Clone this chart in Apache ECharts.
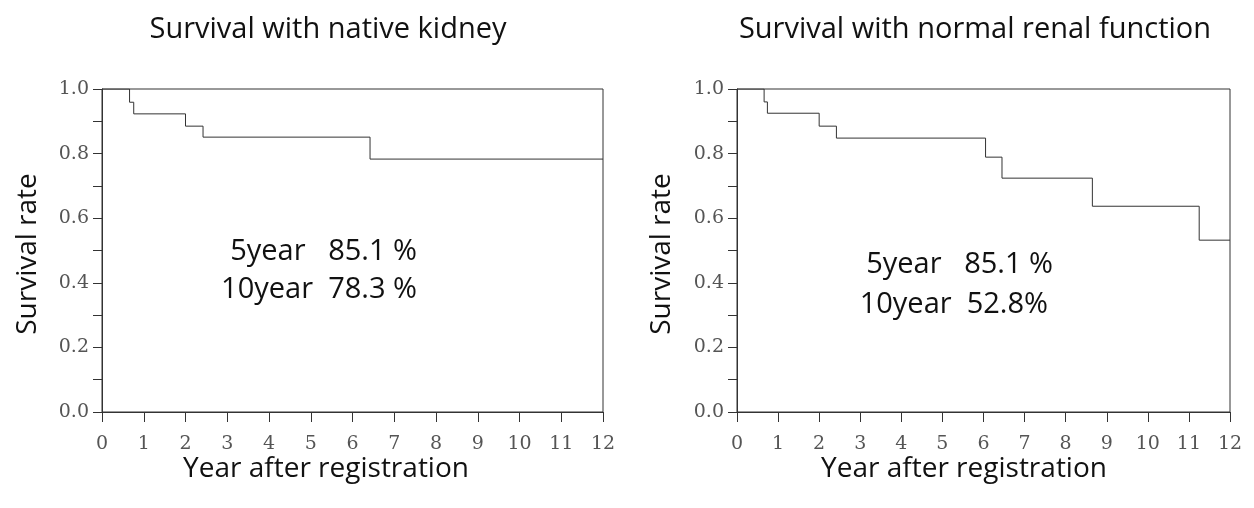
<!DOCTYPE html>
<html>
<head>
    <meta charset="utf-8">
    <title></title>
    <style type="text/css">
        html, body { height: 100%; }
        body { margin: 0; padding: 0; background: #fff; }
        #main { width: 1254px; height: 508px; }
    </style>
</head>
<body>
    <div id="main"></div>
    <script src="https://cdn.jsdelivr.net/npm/echarts@6/dist/echarts.min.js"></script>
    <script type="text/javascript">
        // data
        var titles = ['Survival with native kidney', 'Survival with normal renal function'];
        var kidneyYears = [0, 0.66, 0.76, 2.0, 2.42, 6.42, 12];
        var kidneyRate = [1.0, 0.959, 0.923, 0.885, 0.851, 0.783, 0.783];
        var renalYears = [0, 0.66, 0.74, 2.0, 2.42, 6.05, 6.45, 8.65, 11.25, 12];
        var renalRate = [1.0, 0.960, 0.925, 0.885, 0.848, 0.789, 0.724, 0.637, 0.532, 0.532];
        var notes = [['5year   85.1 %', '10year  78.3 %'], ['5year   85.1 %', '10year  52.8%']];

        function pairs(xs, ys) {
            return xs.map(function (x, i) { return [x, ys[i]]; });
        }

        var lineColor = '#333';
        var textFont = '"Open Sans", Lato, sans-serif';
        var tickFont = '"DejaVu Serif", serif';
        var grids = [
            { left: 102, top: 89, width: 501, height: 323 },
            { left: 737, top: 89, width: 493, height: 323 }
        ];
        // text anchor spots for each panel
        var spots = [
            { title: 328, xname: 326, yname: 28, noteX: [417, 417], noteY: [252, 290] },
            { title: 975, xname: 964, yname: 662, noteX: [1053, 1048], noteY: [265, 305] }
        ];

        function xAxis(i) {
            return {
                type: 'value', gridIndex: i, min: 0, max: 12, interval: 1,
                axisLine: { lineStyle: { color: lineColor, width: 1 } },
                axisTick: { length: 10, lineStyle: { color: lineColor } },
                axisLabel: { color: '#555', fontFamily: tickFont, fontSize: 19, margin: 23 },
                splitLine: { show: false }
            };
        }
        function yAxis(i) {
            return {
                type: 'value', gridIndex: i, min: 0, max: 1, interval: 0.1,
                axisLine: { lineStyle: { color: lineColor, width: 1 } },
                axisTick: { length: 9, lineStyle: { color: lineColor } },
                axisLabel: {
                    color: '#555', fontFamily: tickFont, fontSize: 19, margin: 13,
                    formatter: function (v) {
                        var k = Math.round(v * 10);
                        return k % 2 === 0 ? (k / 10).toFixed(1) : '';
                    }
                },
                splitLine: { show: false }
            };
        }

        function label(txt, x, y, size, align, rot) {
            return {
                type: 'text', x: x, y: y, rotation: rot || 0,
                style: { text: txt, font: size + 'px ' + textFont, fill: '#111', textAlign: align, textVerticalAlign: 'middle' }
            };
        }

        var graphic = [];
        spots.forEach(function (s, i) {
            graphic.push(label(titles[i], s.title, 30, 29, 'center'));
            graphic.push(label('Year after registration', s.xname, 469, 28, 'center'));
            graphic.push(label('Survival rate', s.yname, 254, 28, 'center', Math.PI / 2));
            graphic.push(label(notes[i][0], s.noteX[0], s.noteY[0], 29, 'right'));
            graphic.push(label(notes[i][1], s.noteX[1], s.noteY[1], 29, 'right'));
        });

        var myChart = echarts.init(document.getElementById('main'));
        myChart.setOption({
            animation: false,
            grid: grids.map(function (g) {
                return { left: g.left, top: g.top, width: g.width, height: g.height, show: true, borderColor: lineColor, borderWidth: 1, backgroundColor: 'transparent' };
            }),
            xAxis: [xAxis(0), xAxis(1)],
            yAxis: [yAxis(0), yAxis(1)],
            series: [{
                type: 'line', xAxisIndex: 0, yAxisIndex: 0, step: 'end', symbol: 'none',
                lineStyle: { color: lineColor, width: 1 },
                data: pairs(kidneyYears, kidneyRate)
            }, {
                type: 'line', xAxisIndex: 1, yAxisIndex: 1, step: 'end', symbol: 'none',
                lineStyle: { color: lineColor, width: 1 },
                data: pairs(renalYears, renalRate)
            }],
            graphic: graphic
        });
    </script>
</body>
</html>
